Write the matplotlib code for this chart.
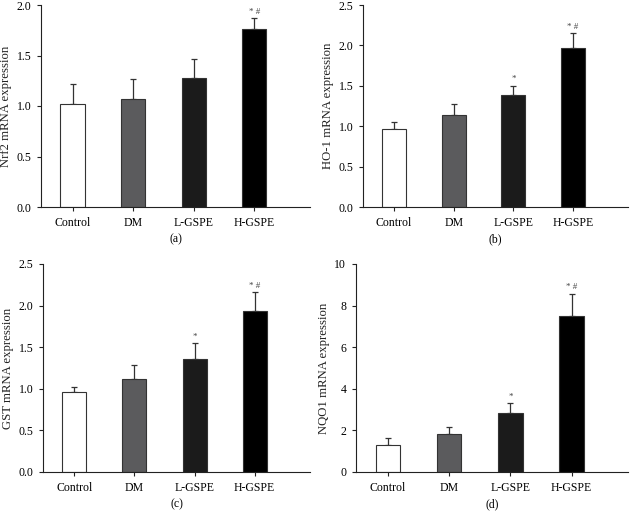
import numpy as np
import matplotlib.pyplot as plt

plt.rcParams["font.family"] = ["Liberation Serif", "DejaVu Serif"]
plt.rcParams["font.size"] = 8.5

groups = ["Control", "DM", "L-GSPE", "H-GSPE"]

nrf2_mean = [1.02, 1.07, 1.28, 1.76]
nrf2_err = [0.20, 0.20, 0.19, 0.11]
nrf2_sig = ["", "", "", "*#"]

ho1_mean = [0.96, 1.14, 1.38, 1.97]
ho1_err = [0.09, 0.13, 0.12, 0.18]
ho1_sig = ["", "", "*", "*#"]

gst_mean = [0.96, 1.12, 1.36, 1.94]
gst_err = [0.06, 0.17, 0.19, 0.22]
gst_sig = ["", "", "*", "*#"]

nqo1_mean = [1.28, 1.83, 2.83, 7.50]
nqo1_err = [0.34, 0.35, 0.49, 1.06]
nqo1_sig = ["", "", "*", "*#"]

bar_colors = ["white", "#5b5b5d", "#1b1b1b", "#000000"]

panels = [
    (nrf2_mean, nrf2_err, nrf2_sig, "Nrf2 mRNA expression", 2.0, 0.5, "(a)"),
    (ho1_mean, ho1_err, ho1_sig, "HO-1 mRNA expression", 2.5, 0.5, "(b)"),
    (gst_mean, gst_err, gst_sig, "GST mRNA expression", 2.5, 0.5, "(c)"),
    (nqo1_mean, nqo1_err, nqo1_sig, "NQO1 mRNA expression", 10, 2, "(d)"),
]

# axes rectangles in pixels: left, top, right, bottom
boxes = [
    (41, 5, 310, 207),
    (363, 5, 628, 207),
    (43, 264, 310, 472),
    (356, 264, 628, 472),
]

W, H = 630, 514
fig = plt.figure(figsize=(W / 100, H / 100), dpi=100)

for (mean, err, sig, ylabel, ymax, step, tag), (l, t, r, b) in zip(panels, boxes):
    ax = fig.add_axes([l / W, 1 - b / H, (r - l) / W, (b - t) / H])
    x = np.arange(len(groups))
    ax.bar(x, mean, width=0.4, color=bar_colors, edgecolor="#333333",
           linewidth=0.8, zorder=2)
    ax.errorbar(x, mean, yerr=[np.zeros(len(mean)), err], fmt="none",
                ecolor="#333333", elinewidth=0.9, capsize=2.5,
                capthick=0.9, zorder=1)
    for xi, m, e, s in zip(x, mean, err, sig):
        if s:
            ax.text(xi, m + e + ymax * 0.012, s.replace("*#", "* #"),
                    ha="center", va="bottom", fontsize=6.5, color="#444444")
    ax.set_xlim(-0.52, 3.92)
    ax.set_ylim(0, ymax)
    ticks = np.arange(0, ymax + step / 2, step)
    ax.set_yticks(ticks)
    if step < 1:
        ax.set_yticklabels([f"{v:.1f}" for v in ticks])
    ax.set_xticks(x)
    ax.set_xticklabels(groups)
    ax.set_ylabel(ylabel, fontsize=9.2, labelpad=3, color="#222222")
    ax.spines["top"].set_visible(False)
    ax.spines["right"].set_visible(False)
    for sp in ("left", "bottom"):
        ax.spines[sp].set_linewidth(0.8)
        ax.spines[sp].set_color("#222222")
    ax.tick_params(length=3, width=0.8, color="#222222", labelsize=8.5, pad=4)
    ax.set_xlabel(tag, labelpad=3)

fig.savefig("out.png", dpi=100)
